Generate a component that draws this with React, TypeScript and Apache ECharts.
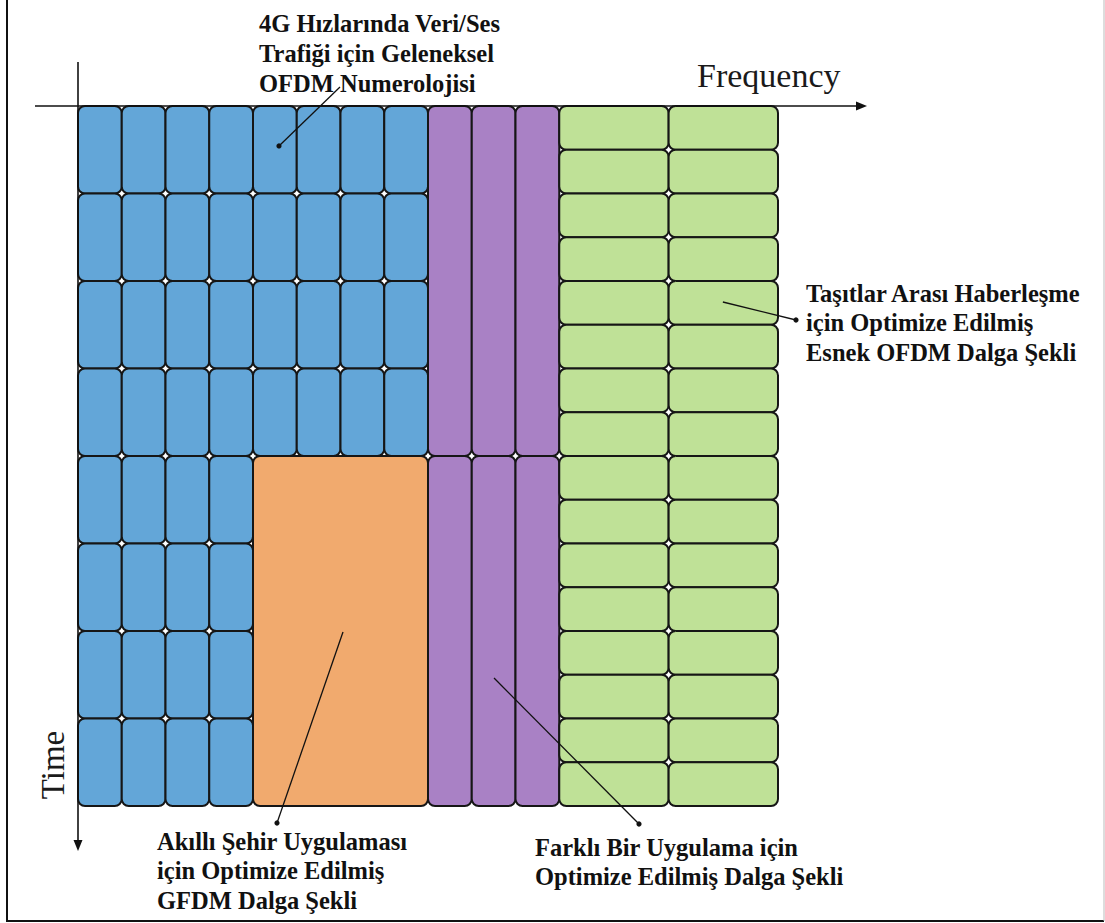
import React, { useEffect, useRef } from "react";
import * as echarts from "echarts";

// Frequency units (one 4G subcarrier column = 1) and time units (one 4G symbol row = 1)
const blockNames = ["blueTop", "blueBottom", "purpleTop", "purpleBottom", "orange", "green"];
const blockX0 = [0, 0, 8, 8, 4, 11];
const blockX1 = [8, 4, 11, 11, 8, 16];
const blockY0 = [0, 4, 0, 4, 4, 0];
const blockY1 = [4, 8, 4, 8, 8, 8];
const blockCols = [8, 4, 3, 3, 1, 2];
const blockRows = [4, 4, 1, 1, 1, 16];
const blockKind = [0, 0, 1, 1, 2, 3];
const kindColors = ["#63A6D8", "#A981C5", "#F1AA6E", "#BFE197"];

const axisX = "Frequency";
const axisY = "Time";

const labelTop = ["4G Hızlarında Veri/Ses", "Trafiği için Geleneksel", "OFDM Numerolojisi"];
const labelRight = ["Taşıtlar Arası Haberleşme", "için Optimize Edilmiş", "Esnek OFDM Dalga Şekli"];
const labelSmart = ["Akıllı Şehir Uygulaması", "için Optimize Edilmiş", "GFDM Dalga Şekli"];
const labelOther = ["Farklı Bir Uygulama için", "Optimize Edilmiş Dalga Şekli"];

// leader start points inside the cells (data coords)
const leaderStarts = [
  [4.594, 0.457],
  [14.74, 2.24],
  [6.057, 6.011],
  [9.509, 6.537],
];

function buildCells() {
  const cells: number[][] = [];
  for (let b = 0; b < blockNames.length; b++) {
    const w = (blockX1[b] - blockX0[b]) / blockCols[b];
    const h = (blockY1[b] - blockY0[b]) / blockRows[b];
    for (let c = 0; c < blockCols[b]; c++) {
      for (let r = 0; r < blockRows[b]; r++) {
        const x0 = blockX0[b] + c * w;
        const y0 = blockY0[b] + r * h;
        cells.push([x0, x0 + w, y0, y0 + h, blockKind[b]]);
      }
    }
  }
  return cells;
}

const FONT = "'Liberation Serif', 'Times New Roman', serif";

export default function App() {
  const ref = useRef<HTMLDivElement>(null);
  useEffect(() => {
    if (!ref.current) return;
    const chart = echarts.init(ref.current, null, { renderer: "svg" });
    const cells = buildCells();
    chart.setOption({
      animation: false,
      grid: { left: 78, top: 106, width: 700, height: 700 },
      xAxis: { type: "value", min: 0, max: 16, show: false },
      yAxis: { type: "value", min: 0, max: 8, inverse: true, show: false },
      series: [
        {
          type: "custom",
          silent: true,
          z: 2,
          encode: { x: [0, 1], y: [2, 3] },
          data: cells,
          renderItem: (params: any, api: any) => {
            const p0 = api.coord([api.value(0), api.value(2)]);
            const p1 = api.coord([api.value(1), api.value(3)]);
            return {
              type: "rect",
              shape: { x: p0[0], y: p0[1], width: p1[0] - p0[0], height: p1[1] - p0[1], r: 7 },
              style: { fill: kindColors[api.value(4)], stroke: "#161616", lineWidth: 2 },
            };
          },
        },
      ],
    });

    const px = leaderStarts.map((p) => chart.convertToPixel({ gridIndex: 0 }, p) as number[]);
    const textEnds = [
      [340, 87],
      [796, 320],
      [277, 823],
      [639, 824],
    ];
    const dotAtStart = [true, false, false, false];

    const graphics: any[] = [];
    const Z = 100;
    // frame
    graphics.push({ type: "line", z: Z, shape: { x1: 7, y1: 0, x2: 7, y2: 922 }, style: { stroke: "#111", lineWidth: 2 } });
    graphics.push({ type: "line", z: Z, shape: { x1: 6, y1: 921, x2: 1104, y2: 921 }, style: { stroke: "#111", lineWidth: 2 } });
    graphics.push({ type: "line", z: Z, shape: { x1: 1104, y1: 0, x2: 1104, y2: 921 }, style: { stroke: "#bbb", lineWidth: 1 } });
    // axes
    graphics.push({ type: "line", z: Z, shape: { x1: 35, y1: 106, x2: 858, y2: 106 }, style: { stroke: "#111", lineWidth: 1.6 } });
    graphics.push({ type: "polygon", z: Z, shape: { points: [[867, 106], [856, 101.5], [856, 110.5]] }, style: { fill: "#111" } });
    graphics.push({ type: "line", z: Z, shape: { x1: 78, y1: 62, x2: 78, y2: 842 }, style: { stroke: "#111", lineWidth: 1.6 } });
    graphics.push({ type: "polygon", z: Z, shape: { points: [[78, 851], [73.5, 840], [82.5, 840]] }, style: { fill: "#111" } });
    graphics.push({
      type: "text", z: Z, x: 697, y: 75,
      style: { text: axisX, font: `normal 34px ${FONT}`, fill: "#1a1a1a", align: "left", verticalAlign: "middle" },
    });
    graphics.push({
      type: "text", z: Z, x: 53, y: 765, rotation: Math.PI / 2,
      style: { text: axisY, font: `normal 33px ${FONT}`, fill: "#1a1a1a", align: "center", verticalAlign: "middle" },
    });
    // leaders
    for (let i = 0; i < px.length; i++) {
      const s = px[i];
      const e = textEnds[i];
      graphics.push({ type: "line", z: Z, shape: { x1: s[0], y1: s[1], x2: e[0], y2: e[1] }, style: { stroke: "#111", lineWidth: 1.3 } });
      const d = dotAtStart[i] ? s : e;
      graphics.push({ type: "circle", z: Z, shape: { cx: d[0], cy: d[1], r: 2.6 }, style: { fill: "#111" } });
    }
    // labels
    const addLines = (lines: string[], x: number, y: number, lh: number) => {
      lines.forEach((t, i) => {
        graphics.push({
          type: "text", z: Z, x, y: y + i * lh,
          style: { text: t, font: `bold 24.5px ${FONT}`, fill: "#111", align: "left", verticalAlign: "middle" },
        });
      });
    };
    addLines(labelTop, 259, 23, 30);
    addLines(labelRight, 806, 293, 29.5);
    addLines(labelSmart, 157, 841, 29.5);
    addLines(labelOther, 535, 847, 29);

    chart.setOption({ graphic: graphics });
    return () => chart.dispose();
  }, []);
  return (
    <div
      ref={ref}
      style={{ position: "absolute", left: 0, top: 0, width: 1105, height: 923, background: "#fff" }}
    />
  );
}
